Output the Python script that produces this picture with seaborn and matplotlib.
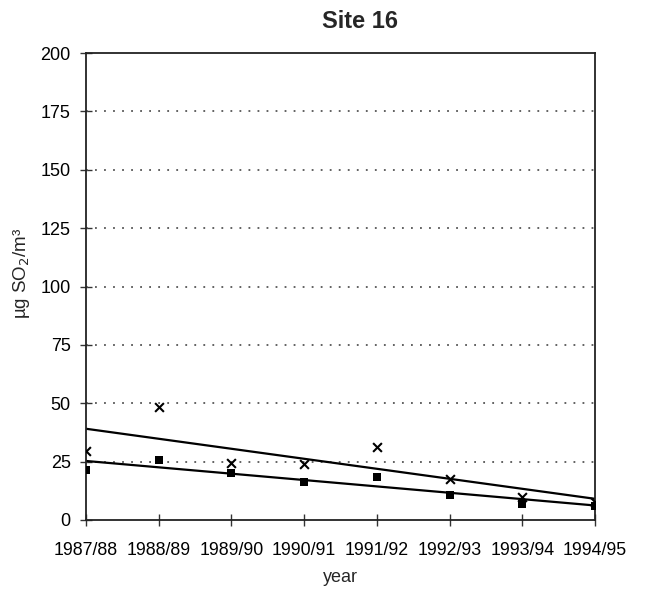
import numpy as np
import pandas as pd
import matplotlib
matplotlib.use("Agg")
import matplotlib.pyplot as plt
import seaborn as sns

years = ["1987/88", "1988/89", "1989/90", "1990/91", "1991/92", "1992/93", "1993/94", "1994/95"]
crosses = [29.7, 48.2, 24.5, 24.0, 31.1, 17.6, 10.0, 7.5]
squares = [21.4, 25.8, 20.3, 16.4, 18.5, 10.7, 6.8, 6.1]
yticks = [0, 25, 50, 75, 100, 125, 150, 175, 200]

sns.set_theme(style="white")
plt.rcParams['font.family'] = ['Liberation Sans', 'DejaVu Sans']

df = pd.DataFrame({"idx": np.arange(len(years)), "cross": crosses, "square": squares})

fig = plt.figure(figsize=(6.46, 5.91), dpi=100)
ax = fig.add_axes([86/646, (591-520)/591, (595-86)/646, (520-53)/591])

for col in ["cross", "square"]:
    sns.regplot(data=df, x="idx", y=col, ax=ax, scatter=False, ci=None,
                color="black", line_kws={"linewidth": 1.6})
sns.scatterplot(data=df, x="idx", y="cross", ax=ax, marker="x", color="black",
                s=40, linewidth=1.5, zorder=5)
sns.scatterplot(data=df, x="idx", y="square", ax=ax, marker="s", color="black",
                s=34, linewidth=0, zorder=5)

ax.set_xlim(0, len(years) - 1)
ax.set_ylim(0, 200)
ax.set_xticks(df["idx"])
ax.set_xticklabels(years, fontsize=12.8)
ax.set_yticks(yticks)
ax.set_yticklabels([str(v) for v in yticks], fontsize=13)
for v in yticks[1:-1]:
    ax.axhline(v, color="#555555", linestyle=(0, (1, 4)), linewidth=1.3, zorder=1)
for s in ax.spines.values():
    s.set_visible(True)
    s.set_color("#222222")
    s.set_linewidth(1.3)
ax.tick_params(axis="both", direction="inout", length=8, width=1.0, colors="#333333",
               labelcolor="black", bottom=True, left=True)
ax.tick_params(axis="x", pad=12)
ax.tick_params(axis="y", pad=7)
ax.set_xlabel("year", fontsize=13, labelpad=7)
ax.set_ylabel(r"µg SO$_2$/m³", fontsize=13.5)
ax.yaxis.set_label_coords(-0.106, 0.529)
fig.text(360/646, 1 - 21/591, "Site 16", ha="center", va="center",
         fontsize=17, fontweight="bold")

fig.savefig("out.png", dpi=100)
